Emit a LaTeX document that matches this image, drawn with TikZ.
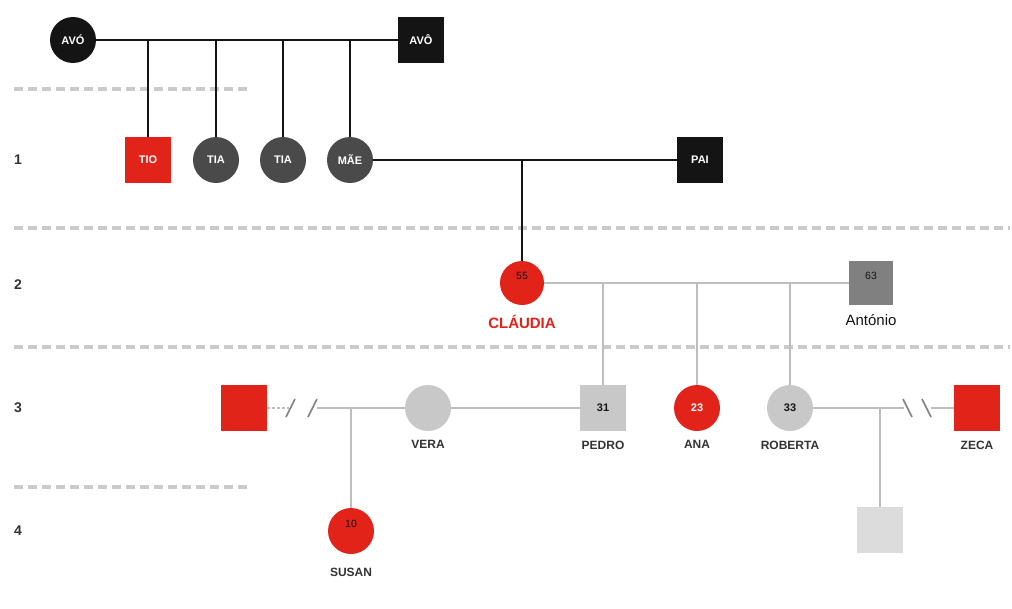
\documentclass[tikz,border=0pt]{standalone}
\usepackage{fontspec}
\setmainfont{Liberation Sans}
\usepackage{tikz}
\usetikzlibrary{positioning}

\definecolor{redP}{HTML}{E2231A}
\definecolor{blackP}{HTML}{141414}
\definecolor{darkP}{HTML}{4A4A4A}
\definecolor{midP}{HTML}{808080}
\definecolor{lightP}{HTML}{C8C8C8}
\definecolor{paleP}{HTML}{DCDCDC}
\definecolor{lineP}{HTML}{BDBDBD}
\definecolor{textP}{HTML}{333333}

\tikzset{
    female/.style={circle, minimum size=46pt, inner sep=0pt, font=\bfseries\fontsize{11}{11}\selectfont},
    male/.style={rectangle, minimum size=46pt, inner sep=0pt, font=\bfseries\fontsize{11}{11}\selectfont},
    nametag/.style={font=\bfseries\fontsize{12}{12}\selectfont, text=textP, label distance=6pt},
    agetag/.style={font=\fontsize{10.5}{10.5}\selectfont, text=blackP, yshift=7pt},
    gentag/.style={font=\bfseries\fontsize{14}{14}\selectfont, text=textP},
    rowline/.style={lineP!80, line width=4pt, dash pattern=on 9pt off 5pt},
    old/.style={blackP, line width=2pt},
    young/.style={lineP, line width=2pt},
    cutmark/.style={lineP!70!black, line width=1.6pt},
}

\begin{document}
\begin{tikzpicture}[x=1pt, y=-1pt]
    \useasboundingbox (0,0) rectangle (1012,608);

    % generation separators
    \draw[rowline] (14,89) -- (247,89);
    \draw[rowline] (14,228) -- (1010,228);
    \draw[rowline] (14,347) -- (1010,347);
    \draw[rowline] (14,487) -- (247,487);

    % generation numbers
    \node[gentag] (g1) at (18,160) {1};
    \node[gentag] (g2) at (18,285) {2};
    \node[gentag] (g3) at (18,408) {3};
    \node[gentag] (g4) at (18,531) {4};

    % grandparents
    \node[female, fill=blackP, text=white] (avo1) at (73,40) {AVÓ};
    \node[male, fill=blackP, text=white] (avo2) at (421,40) {AVÔ};

    % generation 1
    \node[male, fill=redP, text=white] (tio) at (148,160) {TIO};
    \node[female, fill=darkP, text=white] (tia1) at (216,160) {TIA};
    \node[female, fill=darkP, text=white] (tia2) at (283,160) {TIA};
    \node[female, fill=darkP, text=white] (mae) at (350,160) {MÃE};
    \node[male, fill=blackP, text=white] (pai) at (700,160) {PAI};

    % generation 2
    \node[female, minimum size=44pt, fill=redP,
          label={[agetag]center:55},
          label={[nametag, font=\bfseries\fontsize{15}{15}\selectfont, text=redP]below:CLÁUDIA}]
          (claudia) at (522,283) {};
    \node[male, minimum size=44pt, fill=midP,
          label={[agetag]center:63},
          label={[nametag, font=\fontsize{15}{15}\selectfont, text=blackP]below:António}]
          (antonio) at (871,283) {};

    % generation 3
    \node[male, fill=redP] (ex1) at (244,408) {};
    \node[female, fill=lightP, label={[nametag]below:VERA}] (vera) at (428,408) {};
    \node[male, fill=lightP, text=blackP, label={[nametag]below:PEDRO}] (pedro) at (603,408) {31};
    \node[female, fill=redP, text=white, label={[nametag]below:ANA}] (ana) at (697,408) {23};
    \node[female, fill=lightP, text=blackP, label={[nametag]below:ROBERTA}] (roberta) at (790,408) {33};
    \node[male, fill=redP, label={[nametag]below:ZECA}] (zeca) at (977,408) {};

    % generation 4
    \node[female, fill=redP, label={[agetag]center:10},
          label={[nametag, label distance=10pt]below:SUSAN}] (susan) at (351,531) {};
    \node[male, fill=paleP] (neto) at (880,530) {};

    % old family lines
    \draw[old] (avo1) -- (avo2);
    \draw[old] (tio.north |- avo1) -- (tio);
    \draw[old] (tia1.north |- avo1) -- (tia1);
    \draw[old] (tia2.north |- avo1) -- (tia2);
    \draw[old] (mae.north |- avo1) -- (mae);
    \draw[old] (mae) -- (pai);
    \draw[old] (claudia.north |- mae) -- (claudia);

    % Claudia and Antonio
    \draw[young] (claudia) -- (antonio);
    \draw[young] (pedro.north |- claudia) -- (pedro);
    \draw[young] (ana.north |- claudia) -- (ana);
    \draw[young] (roberta.north |- claudia) -- (roberta);

    % divorce on the left
    \coordinate (cut1) at (289,408);
    \coordinate (cut2) at (317,408);
    \draw[young, line width=1.4pt, dash pattern=on 3pt off 2pt] (ex1) -- (cut1);
    \draw[cutmark] (286,417) -- (295,399);
    \draw[cutmark] (308,417) -- (317,399);
    \draw[young] (cut2) -- (vera);
    \draw[young] (vera) -- (pedro);
    \draw[young] (susan.north |- vera) -- (susan);

    % divorce on the right
    \coordinate (cut3) at (904,408);
    \coordinate (cut4) at (931,408);
    \draw[young] (roberta) -- (cut3);
    \draw[cutmark] (903,399) -- (912,417);
    \draw[cutmark] (922,399) -- (931,417);
    \draw[young] (cut4) -- (zeca);
    \draw[young] (neto.north |- roberta) -- (neto);

\end{tikzpicture}
\end{document}
